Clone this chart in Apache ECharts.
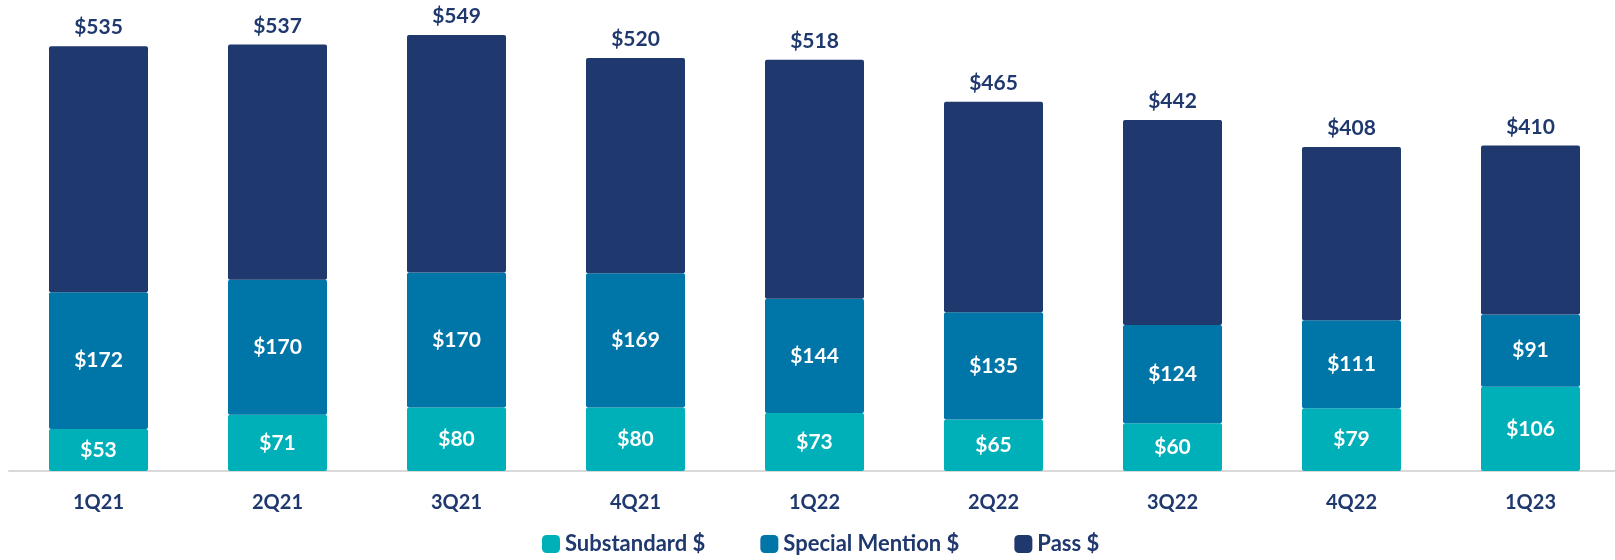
<!DOCTYPE html>
<html>
<head>
<meta charset="utf-8">
<script src="https://cdn.jsdelivr.net/npm/echarts@6/dist/echarts.min.js"></script>
<style>
  html, body { margin: 0; padding: 0; background: #fff; }
  #chart { width: 1615px; height: 560px; }
</style>
</head>
<body>
<div id="chart"></div>
<script>
// Quarterly loan balances by risk rating ($)
const quarters = ['1Q21', '2Q21', '3Q21', '4Q21', '1Q22', '2Q22', '3Q22', '4Q22', '1Q23'];
const substandard = [53, 71, 80, 80, 73, 65, 60, 79, 106];
const specialMention = [172, 170, 170, 169, 144, 135, 124, 111, 91];
const totals = [535, 537, 549, 520, 518, 465, 442, 408, 410];
// Pass segment is the remainder of each quarter's total
const pass = totals.map((t, i) => t - substandard[i] - specialMention[i]);

const FONT = 'Lato, "Open Sans", sans-serif';
const NAVY = '#1F386E';

const chart = echarts.init(document.getElementById('chart'));

const innerLabel = {
  show: true,
  position: 'inside',
  color: '#fff',
  fontFamily: FONT,
  fontWeight: 'bold',
  fontSize: 21,
  formatter: p => '$' + p.value
};

chart.setOption({
  animation: false,
  grid: { left: 9, top: 20, width: 1611, height: 451, outerBoundsMode: 'none' },
  legend: {
    bottom: 0,
    left: 537,
    itemWidth: 18,
    itemHeight: 18,
    itemGap: 55,
    icon: 'roundRect',
    textStyle: { color: NAVY, fontFamily: FONT, fontWeight: 'bold', fontSize: 22 },
    data: ['Substandard $', 'Special Mention $', 'Pass $']
  },
  xAxis: {
    type: 'category',
    data: quarters,
    axisLine: { lineStyle: { color: '#D9D9D9', width: 2 } },
    axisTick: { show: false },
    axisLabel: { color: NAVY, fontFamily: FONT, fontWeight: 'bold', fontSize: 20, margin: 22 }
  },
  yAxis: {
    type: 'value',
    min: 0,
    max: 568,
    show: false,
    splitLine: { show: false }
  },
  series: [
    {
      name: 'Substandard $',
      type: 'bar',
      stack: 'total',
      barWidth: 99,
      data: substandard,
      itemStyle: { color: '#00B0B9', borderRadius: 2 },
      label: innerLabel
    },
    {
      name: 'Special Mention $',
      type: 'bar',
      stack: 'total',
      data: specialMention,
      itemStyle: { color: '#0075A8', borderRadius: 2 },
      label: innerLabel
    },
    {
      name: 'Pass $',
      type: 'bar',
      stack: 'total',
      data: pass,
      itemStyle: { color: NAVY, borderRadius: 2 },
      label: {
        show: true,
        position: 'top',
        distance: 8,
        color: NAVY,
        fontFamily: FONT,
        fontWeight: 'bold',
        fontSize: 21,
        formatter: p => '$' + totals[p.dataIndex]
      }
    }
  ]
});
</script>
</body>
</html>
